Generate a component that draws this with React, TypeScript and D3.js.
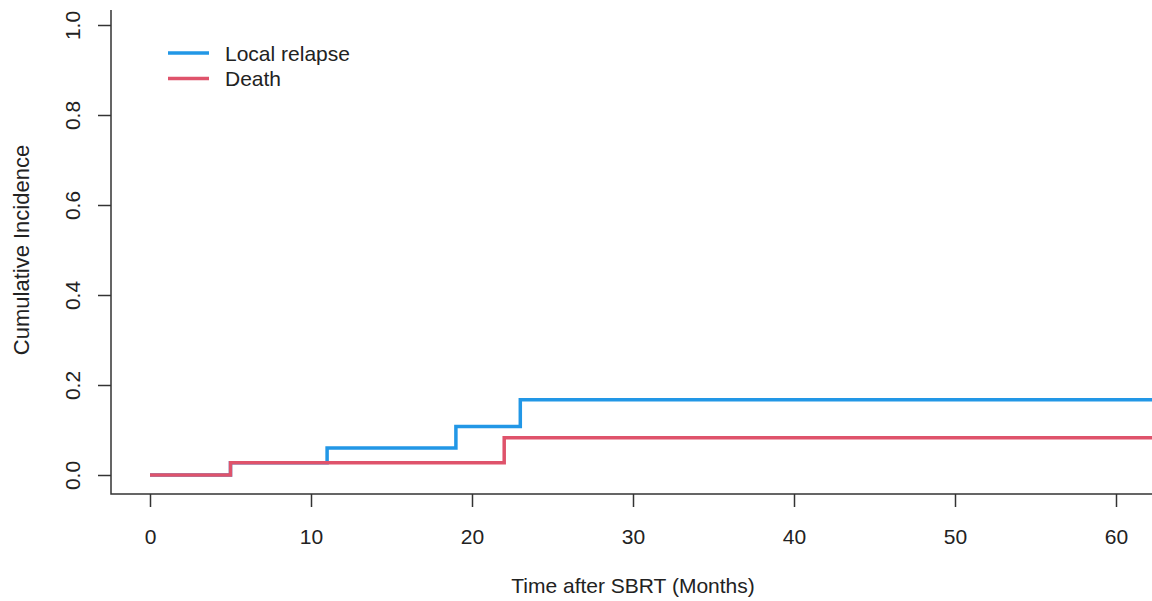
import React, { useEffect, useRef } from "react";
import * as d3 from "d3";

// step data (months, cumulative incidence)
const relapseTimes = [0, 5, 11, 19, 23, 65];
const relapseValues = [0, 0.027, 0.06, 0.108, 0.167, 0.167];
const deathTimes = [0, 5, 22, 65];
const deathValues = [0, 0.027, 0.083, 0.083];

const xTicks = [0, 10, 20, 30, 40, 50, 60];
const yTicks = [0, 0.2, 0.4, 0.6, 0.8, 1.0];

const seriesNames = ["Local relapse", "Death"];
const seriesColors = ["#2297E6", "#DF536B"];

const W = 1152;
const H = 601;

export default function App() {
  const ref = useRef<SVGSVGElement>(null);

  useEffect(() => {
    const svg = d3.select(ref.current);
    svg.selectAll("*").remove();

    const x = d3.scaleLinear().domain([0, 60]).range([150, 1116]);
    const y = d3.scaleLinear().domain([0, 1]).range([475, 25]);
    const axisLeftX = 111;
    const axisBottomY = 494;
    const font = "'Liberation Sans', Arial, sans-serif";

    // L-shaped frame
    svg.append("path")
      .attr("d", `M${axisLeftX},10 V${axisBottomY} H${W}`)
      .attr("fill", "none")
      .attr("stroke", "#333")
      .attr("stroke-width", 1.5);

    // x axis ticks + labels
    const gx = svg.append("g")
      .attr("transform", `translate(0,${axisBottomY})`)
      .call(d3.axisBottom(x).tickValues(xTicks).tickSize(13).tickPadding(22).tickFormat(d3.format("d")));
    gx.select(".domain").remove();
    gx.selectAll("line").attr("stroke", "#333").attr("stroke-width", 1.5);
    gx.selectAll("text").attr("font-family", font).attr("font-size", 21).attr("fill", "#222");

    // y axis ticks + rotated labels
    const gy = svg.append("g")
      .attr("transform", `translate(${axisLeftX},0)`)
      .call(d3.axisLeft(y).tickValues(yTicks).tickSize(13).tickFormat(d3.format(".1f")));
    gy.select(".domain").remove();
    gy.selectAll("line").attr("stroke", "#333").attr("stroke-width", 1.5);
    gy.selectAll("text")
      .attr("font-family", font)
      .attr("font-size", 21)
      .attr("fill", "#222")
      .attr("text-anchor", "middle")
      .attr("dy", null)
      .attr("dominant-baseline", "central")
      .attr("x", null)
      .attr("transform", `translate(${72 - axisLeftX},0) rotate(-90)`);

    // axis titles
    svg.append("text")
      .attr("x", 633)
      .attr("y", 585)
      .attr("text-anchor", "middle")
      .attr("dominant-baseline", "central")
      .attr("font-family", font)
      .attr("font-size", 21)
      .attr("fill", "#222")
      .text("Time after SBRT (Months)");

    svg.append("text")
      .attr("transform", `translate(21,${y(0.5)}) rotate(-90)`)
      .attr("text-anchor", "middle")
      .attr("dominant-baseline", "central")
      .attr("font-family", font)
      .attr("font-size", 22)
      .attr("fill", "#222")
      .text("Cumulative Incidence");

    // step curves
    const line = d3.line<[number, number]>()
      .x((d) => x(d[0]))
      .y((d) => y(d[1]))
      .curve(d3.curveStepAfter);

    const series = [
      relapseTimes.map((t, i) => [t, relapseValues[i]] as [number, number]),
      deathTimes.map((t, i) => [t, deathValues[i]] as [number, number]),
    ];

    series.forEach((pts, i) => {
      svg.append("path")
        .datum(pts)
        .attr("d", line)
        .attr("fill", "none")
        .attr("stroke", seriesColors[i])
        .attr("stroke-width", 3.5);
    });

    // legend
    const legend = svg.append("g");
    seriesNames.forEach((name, i) => {
      const ly = 53 + i * 25.5;
      legend.append("line")
        .attr("x1", 168).attr("x2", 209)
        .attr("y1", ly).attr("y2", ly)
        .attr("stroke", seriesColors[i])
        .attr("stroke-width", 3.5);
      legend.append("text")
        .attr("x", 225)
        .attr("y", ly)
        .attr("dominant-baseline", "central")
        .attr("font-family", font)
        .attr("font-size", 21)
        .attr("fill", "#222")
        .text(name);
    });
  }, []);

  return (
    <svg
      ref={ref}
      width={W}
      height={H}
      style={{ position: "absolute", left: 0, top: 0, background: "#fff" }}
    />
  );
}
